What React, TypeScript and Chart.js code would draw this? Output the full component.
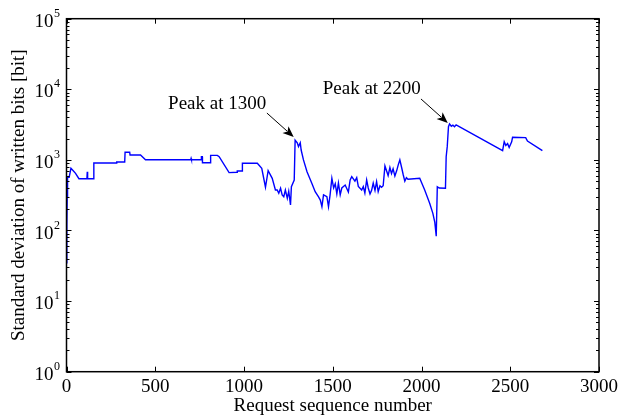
import React, { useEffect, useRef } from 'react';
import { Chart, registerables } from 'chart.js';

Chart.register(...registerables);

// Request sequence number (x) and std-dev of written bits (y)
const seqX = [
  0, 2, 4, 6, 15, 25, 38, 51, 70, 115, 117, 119, 150, 154, 281, 283, 328, 330, 356, 358,
  417, 445, 700, 702, 704, 759, 760, 765, 766, 811, 812, 850, 860, 916, 961, 962, 990, 991, 1075, 1100,
  1121, 1136, 1159, 1177, 1187, 1196, 1206, 1215, 1224, 1233, 1244, 1252, 1262, 1267, 1283, 1288, 1300, 1307, 1317, 1322,
  1335, 1355, 1382, 1401, 1420, 1430, 1439, 1448, 1467, 1476, 1485, 1495, 1505, 1514, 1523, 1532, 1542, 1551, 1570, 1588,
  1598, 1607, 1625, 1635, 1644, 1663, 1672, 1681, 1691, 1700, 1710, 1719, 1728, 1738, 1747, 1756, 1766, 1775, 1784, 1794,
  1803, 1812, 1822, 1831, 1840, 1850, 1860, 1869, 1878, 1888, 1897, 1906, 1915, 1924, 1990, 2018, 2046, 2064, 2075, 2083,
  2089, 2100, 2135, 2139, 2145, 2152, 2158, 2168, 2177, 2186, 2195, 2457, 2466, 2475, 2485, 2494, 2508, 2513, 2587, 2597,
  2681,
];
const stdY = [
  35, 120, 300, 568, 568, 760, 703, 645, 542, 542, 680, 542, 542, 903, 903, 933, 933, 1283, 1283, 1175,
  1175, 1007, 1007, 1050, 1007, 1007, 1110, 1110, 910, 910, 1160, 1160, 1110, 660, 670, 697, 697, 896, 896, 760,
  410, 703, 548, 375, 375, 337, 396, 318, 301, 375, 286, 360, 230, 417, 519, 1900, 1750, 1540, 1750, 1380,
  1000, 680, 468, 355, 300, 270, 217, 320, 301, 217, 320, 548, 400, 460, 330, 470, 320, 400, 440, 350,
  519, 580, 500, 560, 420, 375, 420, 340, 519, 400, 330, 370, 468, 370, 493, 355, 430, 410, 430, 820,
  700, 600, 780, 640, 750, 590, 700, 850, 1000, 780, 616, 500, 560, 531, 548, 375, 243, 175, 130, 83,
  417, 400, 396, 1110, 1540, 2950, 3240, 3000, 3100, 2950, 3140, 1350, 1810, 1600, 1700, 1500, 1800, 2090, 2070, 1850,
  1350,
];

const xTickValues = [0, 500, 1000, 1500, 2000, 2500, 3000];
const yDecades = [0, 1, 2, 3, 4, 5];

// annotations
const annoText = ['Peak at 1300', 'Peak at 2200'];
const annoTextX = [849, 1720];
const annoTextY = [6190, 10090];
const arrowFromX = [1129, 1997];
const arrowFromY = [4610, 7300];
const arrowToX = [1280, 2148];
const arrowToY = [2110, 3335];

const FONT = "'Liberation Serif', 'Times New Roman', Times, serif";
const FS = 19;

const framePlugin = {
  id: 'frame',
  afterDatasetsDraw(chart: any) {
    const { ctx, chartArea } = chart;
    const xs = chart.scales.x;
    const ys = chart.scales.y;
    const { left, right, top, bottom } = chartArea;
    ctx.save();
    ctx.strokeStyle = '#000';
    ctx.lineWidth = 1;
    ctx.beginPath();
    xTickValues.forEach((v) => {
      const px = Math.round(xs.getPixelForValue(v)) + 0.5;
      ctx.moveTo(px, bottom);
      ctx.lineTo(px, bottom - 5);
      ctx.moveTo(px, top);
      ctx.lineTo(px, top + 5);
    });
    yDecades.forEach((d) => {
      for (let m = 1; m <= 9; m++) {
        const v = m * Math.pow(10, d);
        if (v > 1e5) break;
        const py = Math.round(ys.getPixelForValue(v)) + 0.5;
        const len = m === 1 ? 5 : 3;
        ctx.moveTo(left, py);
        ctx.lineTo(left + len, py);
        ctx.moveTo(right, py);
        ctx.lineTo(right - len, py);
      }
    });
    ctx.stroke();
    ctx.lineWidth = 1.5;
    ctx.strokeRect(left, top, right - left, bottom - top);

    ctx.fillStyle = '#000';
    yDecades.forEach((d) => {
      const py = ys.getPixelForValue(Math.pow(10, d));
      ctx.font = `${FS}px ${FONT}`;
      ctx.textAlign = 'right';
      ctx.textBaseline = 'alphabetic';
      ctx.fillText('10', left - 13, py + 8);
      ctx.font = `12px ${FONT}`;
      ctx.textAlign = 'left';
      ctx.fillText(String(d), left - 12.5, py - 2);
    });

    annoText.forEach((t, i) => {
      const tx = xs.getPixelForValue(annoTextX[i]);
      const ty = ys.getPixelForValue(annoTextY[i]);
      ctx.font = `${FS}px ${FONT}`;
      ctx.textAlign = 'center';
      ctx.textBaseline = 'middle';
      ctx.fillStyle = '#000';
      ctx.fillText(t, tx, ty);
      const x0 = xs.getPixelForValue(arrowFromX[i]);
      const y0 = ys.getPixelForValue(arrowFromY[i]);
      const x1 = xs.getPixelForValue(arrowToX[i]);
      const y1 = ys.getPixelForValue(arrowToY[i]);
      const ang = Math.atan2(y1 - y0, x1 - x0);
      const hl = 11;
      const hw = 4.5;
      ctx.lineWidth = 1;
      ctx.beginPath();
      ctx.moveTo(x0, y0);
      ctx.lineTo(x1 - hl * 0.8 * Math.cos(ang), y1 - hl * 0.8 * Math.sin(ang));
      ctx.stroke();
      const bx = x1 - hl * Math.cos(ang);
      const by = y1 - hl * Math.sin(ang);
      const nx = -Math.sin(ang);
      const ny = Math.cos(ang);
      ctx.beginPath();
      ctx.moveTo(x1, y1);
      ctx.lineTo(bx + nx * hw, by + ny * hw);
      ctx.lineTo(x1 - hl * 0.75 * Math.cos(ang), y1 - hl * 0.75 * Math.sin(ang));
      ctx.lineTo(bx - nx * hw, by - ny * hw);
      ctx.closePath();
      ctx.fill();
    });
    ctx.restore();
  },
};

export default function App() {
  const canvasRef = useRef<HTMLCanvasElement | null>(null);

  useEffect(() => {
    if (!canvasRef.current) return;
    const points = seqX.map((x, i) => ({ x, y: stdY[i] }));
    const chart = new Chart(canvasRef.current, {
      type: 'scatter',
      data: {
        datasets: [
          {
            data: points,
            showLine: true,
            borderColor: '#0000ff',
            backgroundColor: '#0000ff',
            borderWidth: 1.4,
            pointRadius: 0,
            tension: 0,
          },
        ],
      },
      options: {
        responsive: false,
        animation: false,
        devicePixelRatio: 1,
        layout: { padding: { top: 18.7, right: 20, left: 0, bottom: 0 } },
        plugins: { legend: { display: false }, tooltip: { enabled: false } },
        scales: {
          x: {
            type: 'linear',
            min: 0,
            max: 3000,
            afterFit: (s: any) => {
              s.height = 47.3;
            },
            ticks: {
              stepSize: 500,
              color: '#000',
              font: { family: FONT, size: FS },
              padding: 4,
              maxRotation: 0,
              autoSkip: false,
              callback: (v: any) => String(v),
            },
            grid: { display: false, drawTicks: false },
            border: { display: false },
            title: {
              display: true,
              text: 'Request sequence number',
              color: '#000',
              font: { family: FONT, size: FS },
              padding: { top: 0, bottom: 2 },
            },
          },
          y: {
            type: 'logarithmic',
            min: 1,
            max: 100000,
            afterFit: (s: any) => {
              s.width = 66.5;
            },
            ticks: { display: false },
            grid: { display: false, drawTicks: false },
            border: { display: false },
            title: {
              display: true,
              text: 'Standard deviation of written bits [bit]',
              color: '#000',
              font: { family: FONT, size: FS },
              padding: { top: 8, bottom: 0 },
            },
          },
        },
      },
      plugins: [framePlugin],
    });
    return () => chart.destroy();
  }, []);

  return (
    <div style={{ position: 'fixed', left: 0, top: 0, width: 622, height: 419, background: '#fff' }}>
      <canvas ref={canvasRef} width={622} height={419} />
    </div>
  );
}
